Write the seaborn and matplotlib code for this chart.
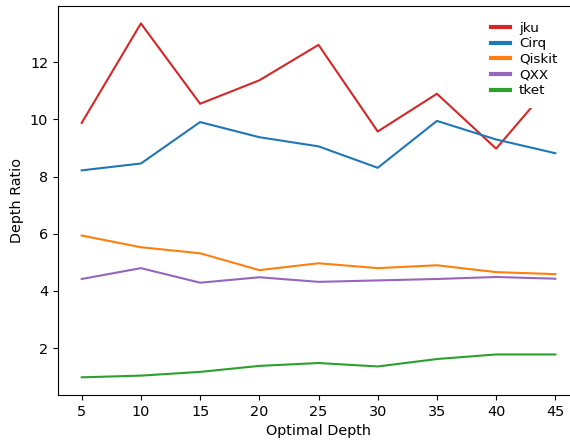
import matplotlib
import pandas as pd

matplotlib.use("Agg")
import matplotlib.pyplot as plt
import seaborn as sns


OPTIMAL_DEPTH = [5, 10, 15, 20, 25, 30, 35, 40, 45]

JKU = [9.88, 13.36, 10.55, 11.37, 12.61, 9.58, 10.90, 8.98, 11.40]
CIRQ = [8.22, 8.46, 9.91, 9.38, 9.06, 8.31, 9.95, 9.30, 8.82]
QISKIT = [5.94, 5.53, 5.32, 4.73, 4.97, 4.80, 4.90, 4.66, 4.59]
QXX = [4.42, 4.80, 4.29, 4.48, 4.32, 4.37, 4.42, 4.49, 4.43]
TKET = [0.98, 1.04, 1.17, 1.38, 1.48, 1.36, 1.62, 1.78, 1.78]

SERIES = {
    "jku": JKU,
    "Cirq": CIRQ,
    "Qiskit": QISKIT,
    "QXX": QXX,
    "tket": TKET,
}

PALETTE = {
    "jku": "tab:red",
    "Cirq": "tab:blue",
    "Qiskit": "tab:orange",
    "QXX": "tab:purple",
    "tket": "tab:green",
}


def build_frame() -> pd.DataFrame:
    frames = []
    for name, values in SERIES.items():
        frames.append(pd.DataFrame({"depth": OPTIMAL_DEPTH, "ratio": values, "compiler": name}))
    return pd.concat(frames, ignore_index=True)


def main() -> None:
    df = build_frame()

    fig = plt.figure(figsize=(5.7, 4.42), dpi=100)
    ax = fig.add_axes([0.1018, 0.1063, 0.9140, 0.8807])

    sns.lineplot(
        data=df,
        x="depth",
        y="ratio",
        hue="compiler",
        hue_order=list(SERIES.keys()),
        palette=PALETTE,
        linewidth=1.5,
        ax=ax,
    )

    ax.set_xticks(OPTIMAL_DEPTH)
    ax.tick_params(labelsize=10.4)
    ax.set_xlabel("Optimal Depth", fontsize=10.4)
    ax.set_ylabel("Depth Ratio", fontsize=10.4)

    # white box without edge, it hides the end of the jku line like in the original
    leg = ax.legend(
        loc="upper right",
        bbox_to_anchor=(0.979, 0.987),
        borderaxespad=0,
        borderpad=0.8,
        frameon=True,
        framealpha=1,
        edgecolor="none",
        fontsize=9.7,
        handlelength=1.45,
        handletextpad=0.65,
        labelspacing=0.2,
    )
    for line in leg.get_lines():
        line.set_linewidth(3)

    fig.savefig("out.png", dpi=100)
    plt.close(fig)


if __name__ == "__main__":
    main()
